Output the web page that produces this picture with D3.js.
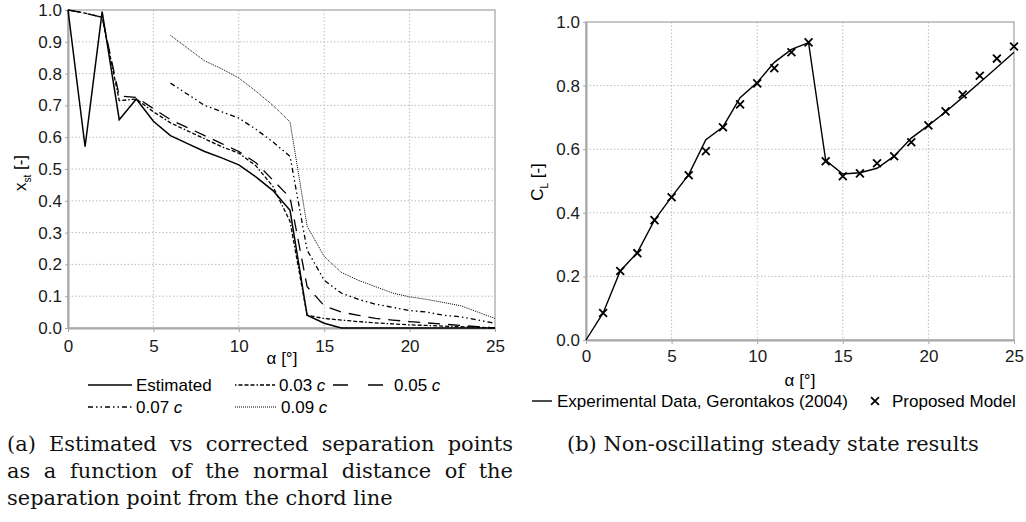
<!DOCTYPE html>
<html>
<head>
<meta charset="utf-8">
<title>separation-points</title>
<style>
body { margin: 0; background: #fff; font-family: "Liberation Sans", Arial, sans-serif; }
.tick text { font-size: 17px; fill: #1a1a1a; font-family: "Liberation Sans", Arial, sans-serif; }
.domain, .tick line { stroke: #a8a8a8; }
.grid line { stroke: #bdbdbd; stroke-dasharray: 1.5,2; }
.caption { font-family: "DejaVu Serif", "Liberation Serif", serif; font-size: 20px; fill: #111; }
</style>
</head>
<body>
<script src="https://d3js.org/d3.v7.min.js"></script>
<script>
// ---- data (a): separation points ----
var alphaA = [0,1,2,3,4,5,6,7,8,9,10,11,12,13,14,15,16,17,18,19,20,21,22,23,24,25];
var estimated = [1.0,0.57,0.995,0.655,0.72,0.65,0.605,0.58,0.555,0.535,0.513,0.475,0.432,0.37,0.04,0.015,0.0,0,0,0,0,0,0,0,0,0];
var corr03 = [1.0,0.99,0.977,0.715,0.72,0.68,0.645,0.62,0.595,0.57,0.55,0.51,0.445,0.335,0.04,0.03,0.025,0.02,0.016,0.013,0.01,0.008,0.006,0.004,0.002,0.0];
var corr05 = [1.0,0.99,0.977,0.73,0.725,0.69,0.655,0.63,0.605,0.58,0.555,0.52,0.465,0.41,0.13,0.07,0.05,0.04,0.03,0.025,0.02,0.016,0.012,0.008,0.004,0.0];
var alphaB = [6,7,8,9,10,11,12,13,14,15,16,17,18,19,20,21,22,23,24,25];
var corr07 = [0.77,0.735,0.70,0.68,0.66,0.625,0.585,0.54,0.245,0.15,0.11,0.09,0.075,0.065,0.055,0.05,0.04,0.035,0.025,0.015];
var corr09 = [0.92,0.88,0.84,0.815,0.786,0.745,0.70,0.648,0.32,0.225,0.175,0.15,0.13,0.11,0.098,0.09,0.08,0.07,0.05,0.03];
var xTicksA = [0,5,10,15,20,25];
var yTicksA = [0,0.1,0.2,0.3,0.4,0.5,0.6,0.7,0.8,0.9,1.0];

// ---- data (b): lift coefficient ----
var alphaExp = [0,1,2,3,4,5,6,7,8,9,10,11,12,13,14,15,16,17,18,19,20,21,22,23,24,25];
var clExp = [0,0.085,0.217,0.275,0.377,0.45,0.52,0.63,0.67,0.762,0.81,0.873,0.914,0.935,0.565,0.522,0.526,0.54,0.578,0.635,0.675,0.717,0.763,0.81,0.857,0.905];
var alphaModel = [1,2,3,4,5,6,7,8,9,10,11,12,13,14,15,16,17,18,19,20,21,22,23,24,25];
var clModel = [0.085,0.217,0.273,0.377,0.449,0.518,0.594,0.669,0.741,0.807,0.855,0.905,0.936,0.562,0.515,0.524,0.556,0.578,0.622,0.675,0.719,0.772,0.831,0.885,0.923];
var xTicksB = [0,5,10,15,20,25];
var yTicksB = [0,0.2,0.4,0.6,0.8,1.0];

var svg = d3.select("body").append("svg")
    .attr("width", 1026)
    .attr("height", 522);

/* draws the frame, grid and axes of one panel and returns its scales */
function panel(box, xTicks, yTicks) {
    var x = d3.scaleLinear().domain([0, 25]).range([box.left, box.right]);
    var y = d3.scaleLinear().domain([0, 1]).range([box.bottom, box.top]);

    var grid = svg.append("g").attr("class", "grid");
    grid.selectAll(".gx").data(xTicks.slice(1, -1)).enter().append("line")
        .attr("x1", function (d) { return x(d); }).attr("x2", function (d) { return x(d); })
        .attr("y1", box.top).attr("y2", box.bottom);
    grid.selectAll(".gy").data(yTicks.slice(1, -1)).enter().append("line")
        .attr("x1", box.left).attr("x2", box.right)
        .attr("y1", function (d) { return y(d); }).attr("y2", function (d) { return y(d); });

    svg.append("rect")
        .attr("x", box.left).attr("y", box.top)
        .attr("width", box.right - box.left).attr("height", box.bottom - box.top)
        .attr("fill", "none").attr("stroke", "#b4b4b4").attr("stroke-width", 1.5);

    svg.append("g")
        .attr("transform", "translate(0," + box.bottom + ")")
        .call(d3.axisBottom(x).tickValues(xTicks).tickSize(4).tickSizeOuter(0).tickPadding(box.xPad))
        .call(function (g) { g.select(".domain").attr("stroke-width", 2); });

    svg.append("g")
        .attr("transform", "translate(" + box.left + ",0)")
        .call(d3.axisLeft(y).tickValues(yTicks).tickFormat(d3.format(".1f")).tickSize(3).tickSizeOuter(0).tickPadding(3))
        .call(function (g) { g.select(".domain").attr("stroke-width", 2); });

    return { x: x, y: y };
}

// ================= panel (a) =================
var boxA = { left: 68, right: 495, top: 10, bottom: 328, xPad: 8 };
var sA = panel(boxA, xTicksA, yTicksA);

var seriesA = [
    { name: "Estimated", xs: alphaA, ys: estimated, dash: null, w: 1.5 },
    { name: "0.03", xs: alphaA, ys: corr03, dash: "1.5,2,4,2,4,2,4,2", w: 1.3 },
    { name: "0.05", xs: alphaA, ys: corr05, dash: "12,8", w: 1.3 },
    { name: "0.07", xs: alphaB, ys: corr07, dash: "5,3,1.5,3,1.5,3", w: 1.3 },
    { name: "0.09", xs: alphaB, ys: corr09, dash: "1,1", w: 1 }
];

var lineA = d3.line()
    .x(function (d) { return sA.x(d[0]); })
    .y(function (d) { return sA.y(d[1]); });

seriesA.forEach(function (s) {
    svg.append("path")
        .datum(d3.zip(s.xs, s.ys))
        .attr("d", lineA)
        .attr("fill", "none")
        .attr("stroke", "#000")
        .attr("stroke-width", s.w)
        .attr("stroke-dasharray", s.dash);
});

// x label
svg.append("text")
    .attr("x", 282).attr("y", 364)
    .attr("text-anchor", "middle")
    .style("font-size", "17px")
    .text("α [°]");

// y label x_st [-]
var ylabA = svg.append("text")
    .attr("transform", "translate(26,173) rotate(-90)")
    .attr("text-anchor", "middle")
    .style("font-size", "17px");
ylabA.append("tspan").text("x");
ylabA.append("tspan").attr("dy", 5).style("font-size", "10px").text("st");
ylabA.append("tspan").attr("dy", -5).text(" [-]");

// legend (a)
var legA = [
    { s: seriesA[0], x: 88, y: 385, len: 44 },
    { s: seriesA[1], x: 235, y: 385, len: 40 },
    { s: seriesA[2], x: 333, y: 385, len: 57 },
    { s: seriesA[3], x: 88, y: 407, len: 44 },
    { s: seriesA[4], x: 235, y: 407, len: 42 }
];
legA.forEach(function (l) {
    svg.append("line")
        .attr("x1", l.x).attr("x2", l.x + l.len)
        .attr("y1", l.y).attr("y2", l.y)
        .attr("stroke", "#000")
        .attr("stroke-width", l.s.w)
        .attr("stroke-dasharray", l.s.dash === "12,8" ? "15,20" : l.s.dash);
    var t = svg.append("text")
        .attr("x", l.x + l.len + 4).attr("y", l.y + 6)
        .style("font-size", "17px");
    if (l.s.name === "Estimated") {
        t.text("Estimated");
    } else {
        t.append("tspan").text(l.s.name + " ");
        t.append("tspan").style("font-style", "italic").text("c");
    }
});

// ================= panel (b) =================
var boxB = { left: 586, right: 1014, top: 22, bottom: 340, xPad: 6 };
var sB = panel(boxB, xTicksB, yTicksB);

var lineB = d3.line()
    .x(function (d) { return sB.x(d[0]); })
    .y(function (d) { return sB.y(d[1]); });

svg.append("path")
    .datum(d3.zip(alphaExp, clExp))
    .attr("d", lineB)
    .attr("fill", "none")
    .attr("stroke", "#000")
    .attr("stroke-width", 1.4);

var cross = d3.symbol().type(d3.symbolX).size(42);
svg.selectAll(".cross")
    .data(d3.zip(alphaModel, clModel))
    .enter().append("path")
    .attr("class", "cross")
    .attr("d", cross)
    .attr("transform", function (d) { return "translate(" + sB.x(d[0]) + "," + sB.y(d[1]) + ")"; })
    .attr("fill", "none")
    .attr("stroke", "#000")
    .attr("stroke-width", 1.8);

svg.append("text")
    .attr("x", 800).attr("y", 386)
    .attr("text-anchor", "middle")
    .style("font-size", "17px")
    .text("α [°]");

var ylabB = svg.append("text")
    .attr("transform", "translate(543,182) rotate(-90)")
    .attr("text-anchor", "middle")
    .style("font-size", "17px");
ylabB.append("tspan").text("C");
ylabB.append("tspan").attr("dy", 5).style("font-size", "10px").text("L");
ylabB.append("tspan").attr("dy", -5).text(" [-]");

// legend (b)
svg.append("line")
    .attr("x1", 532).attr("x2", 552).attr("y1", 401).attr("y2", 401)
    .attr("stroke", "#000").attr("stroke-width", 1.4);
svg.append("text")
    .attr("x", 557).attr("y", 407)
    .style("font-size", "17px")
    .text("Experimental Data, Gerontakos (2004)");
svg.append("path")
    .attr("d", cross)
    .attr("transform", "translate(875,401)")
    .attr("fill", "none").attr("stroke", "#000").attr("stroke-width", 1.8);
svg.append("text")
    .attr("x", 892).attr("y", 407)
    .style("font-size", "17px")
    .text("Proposed Model");

// ================= captions =================
// pick the size that gives the last (unjustified) line the reference width,
// then justify the first two lines by widening the word spaces
var base = "separation point from the chord line";
var probe = svg.append("text").attr("class", "caption").text(base);
var capSize = 20 * 386 / probe.node().getComputedTextLength();
probe.remove();

var capLines = [
    { t: "(a) Estimated vs corrected separation points", x: 7, y: 451, len: 506 },
    { t: "as a function of the normal distance of the", x: 7, y: 478, len: 506 },
    { t: base, x: 7, y: 505, len: null },
    { t: "(b) Non-oscillating steady state results", x: 567, y: 451, len: null }
];
capLines.forEach(function (c) {
    var t = svg.append("text")
        .attr("class", "caption")
        .attr("x", c.x).attr("y", c.y)
        .style("font-size", capSize + "px")
        .text(c.t);
    if (c.len) {
        var spaces = c.t.split(" ").length - 1;
        var extra = (c.len - t.node().getComputedTextLength()) / spaces;
        t.style("word-spacing", extra + "px");
    }
});
</script>
</body>
</html>
